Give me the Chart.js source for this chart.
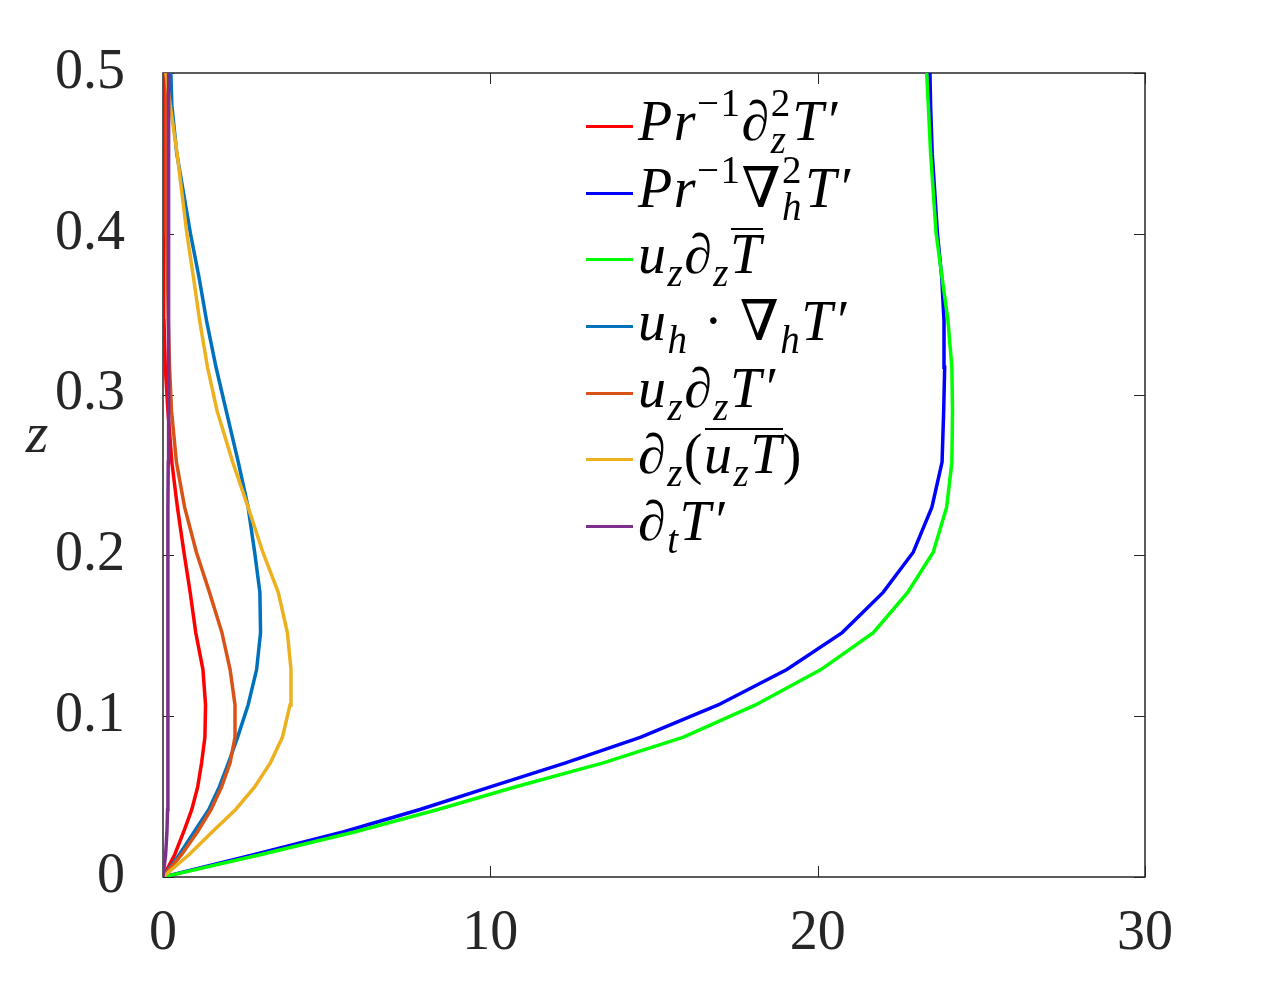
<!DOCTYPE html>
<html>
<head>
<meta charset="utf-8">
<script src="https://cdn.jsdelivr.net/npm/chart.js@4.4.1/dist/chart.umd.min.js"></script>
<style>
html,body{margin:0;padding:0;background:#fff;}
#wrap{position:relative;width:1267px;height:986px;}
#c{position:absolute;left:0;top:0;}
#legend{position:absolute;left:586px;top:93px;}
.row{position:relative;height:66.7px;}
.swatch{position:absolute;left:0;top:32px;width:47px;height:3px;}
.txt{position:absolute;left:52px;top:-5px;white-space:nowrap;font-family:"Liberation Serif","Times New Roman","DejaVu Serif",serif;font-size:56px;line-height:66.7px;font-style:italic;color:#000;letter-spacing:1.5px;}
.u{font-style:normal;}
.sp{font-size:39px;vertical-align:24px;line-height:0;}
.sb{font-size:39px;vertical-align:-13px;line-height:0;}
.ol{position:relative;}
.ol::before{content:'';position:absolute;left:1px;right:0;top:5px;border-top:2px solid #000;}
</style>
</head>
<body>
<div id="wrap">
<canvas id="c" width="1267" height="986"></canvas>
<div id="legend"></div>
</div>
<script>
// vertical coordinate (shared by all profiles)
const zVals = [0, 0.014, 0.028, 0.042, 0.056, 0.071, 0.087, 0.107, 0.129, 0.152, 0.177, 0.202, 0.23, 0.258, 0.29, 0.317, 0.346, 0.373, 0.4, 0.45, 0.48, 0.5];

// series values (x) at each z
const diffZ    = [0, 0.36, 0.63, 0.88, 1.06, 1.18, 1.28, 1.30, 1.22, 1.0, 0.83, 0.64, 0.44, 0.27, 0.15, 0.07, 0.03, 0.02, 0.02, 0.02, 0.03, 0.04];
const diffH    = [0, 2.8, 5.5, 7.85, 10.0, 12.3, 14.6, 16.96, 19.06, 20.75, 22.0, 22.92, 23.49, 23.8, 23.85, 23.88, 23.86, 23.79, 23.66, 23.5, 23.45, 23.43];
const meanAdv  = [0, 3.0, 5.85, 8.4, 10.75, 13.45, 15.9, 18.1, 20.1, 21.7, 22.75, 23.53, 23.94, 24.1, 24.12, 24.1, 23.98, 23.8, 23.62, 23.45, 23.38, 23.33];
const horizAdv = [0, 0.5, 0.95, 1.4, 1.72, 2.0, 2.28, 2.6, 2.86, 2.98, 2.96, 2.8, 2.6, 2.3, 1.93, 1.62, 1.33, 1.1, 0.84, 0.42, 0.27, 0.24];
const vertAdvP = [0, 0.57, 1.05, 1.47, 1.79, 2.05, 2.2, 2.2, 2.05, 1.8, 1.42, 1.02, 0.66, 0.41, 0.26, 0.2, 0.16, 0.14, 0.12, 0.1, 0.1, 0.1];
const fluxDiv  = [0, 0.8, 1.5, 2.22, 2.8, 3.28, 3.65, 3.88, 3.91, 3.8, 3.52, 3.05, 2.6, 2.13, 1.65, 1.36, 1.12, 0.93, 0.73, 0.43, 0.22, 0.09];
const dtT      = [0, 0.08, 0.12, 0.14, 0.15, 0.15, 0.15, 0.15, 0.15, 0.15, 0.15, 0.15, 0.15, 0.16, 0.16, 0.16, 0.17, 0.17, 0.17, 0.18, 0.18, 0.18];

// tick labels
const xTicks = [0, 10, 20, 30];
const yTicks = [0, 0.1, 0.2, 0.3, 0.4, 0.5];

// legend labels (math markup) and colours
const seriesNames = [
  'Pr^-1 dz2 T\'', 'Pr^-1 grad_h2 T\'', 'u_z dz Tbar', 'u_h . grad_h T\'', 'u_z dz T\'', 'dz(u_z T)', 'dt T\''
];
const legendHTML = [
  'Pr<span class="sp u">−1</span>∂<span class="sp u">2</span><span class="sb" style="margin-left:-21px;margin-right:5px">z</span>T′',
  'Pr<span class="sp u">−1</span><span class="u">∇</span><span class="sp u">2</span><span class="sb" style="margin-left:-21px;margin-right:2px">h</span>T′',
  'u<span class="sb">z</span>∂<span class="sb">z</span><span class="ol">T</span>',
  'u<span class="sb">h</span><span class="u"> · ∇</span><span class="sb">h</span>T′',
  'u<span class="sb">z</span>∂<span class="sb">z</span>T′',
  '∂<span class="sb">z</span><span class="u">(</span><span class="ol">u<span class="sb">z</span>T</span><span class="u">)</span>',
  '∂<span class="sb">t</span>T′'
];
const colors = ['#FF0000', '#0000FF', '#00FF00', '#0072BD', '#D95319', '#EDB120', '#7E2F8E'];
const seriesData = [diffZ, diffH, meanAdv, horizAdv, vertAdvP, fluxDiv, dtT];

const toPts = xs => xs.map((x, i) => ({x: x, y: zVals[i]}));

const datasets = seriesData.map((s, i) => ({
  label: seriesNames[i],
  data: toPts(s),
  borderColor: colors[i],
  backgroundColor: colors[i],
  borderWidth: 3.5,
  pointRadius: 0,
  showLine: true,
  tension: 0,
  fill: false,
  order: seriesData.length - 1 - i
}));

const AX = '#262626';
const FONT = '"Liberation Serif", "Times New Roman", "DejaVu Serif", serif';

const boxPlugin = {
  id: 'box',
  beforeDatasetsDraw(chart) {
    const {ctx, chartArea: a, scales} = chart;
    ctx.save();
    ctx.strokeStyle = AX;
    ctx.lineWidth = 1.5;
    ctx.strokeRect(a.left, a.top, a.right - a.left, a.bottom - a.top);
    ctx.lineWidth = 1;
    const tl = 11;
    ctx.beginPath();
    xTicks.forEach(v => {
      const px = Math.round(scales.x.getPixelForValue(v)) + 0.5;
      ctx.moveTo(px, a.bottom); ctx.lineTo(px, a.bottom - tl);
      ctx.moveTo(px, a.top); ctx.lineTo(px, a.top + tl);
    });
    yTicks.forEach(v => {
      const py = Math.round(scales.y.getPixelForValue(v)) + 0.5;
      ctx.moveTo(a.left, py); ctx.lineTo(a.left + tl, py);
      ctx.moveTo(a.right, py); ctx.lineTo(a.right - tl, py);
    });
    ctx.stroke();
    ctx.restore();
  },
  afterDraw(chart) {
    const {ctx} = chart;
    ctx.save();
    ctx.fillStyle = AX;
    ctx.font = 'italic 58px ' + FONT;
    ctx.textAlign = 'center';
    ctx.textBaseline = 'alphabetic';
    ctx.fillText('z', 37, 452);
    ctx.restore();
  }
};

const chart = new Chart(document.getElementById('c'), {
  type: 'scatter',
  data: {datasets},
  options: {
    responsive: false,
    animation: false,
    layout: {padding: {top: 73, right: 122, left: 0, bottom: 0}},
    plugins: {legend: {display: false}, tooltip: {enabled: false}},
    scales: {
      x: {
        type: 'linear', min: 0, max: 30,
        afterBuildTicks: s => { s.ticks = xTicks.map(v => ({value: v})); },
        ticks: {color: AX, font: {family: FONT, size: 56}, padding: 16, maxRotation: 0},
        grid: {display: false},
        border: {display: false},
        afterFit: s => { s.height = 109; }
      },
      y: {
        type: 'linear', min: 0, max: 0.5,
        afterBuildTicks: s => { s.ticks = yTicks.map(v => ({value: v})); },
        ticks: {color: AX, font: {family: FONT, size: 56}, padding: 30,
                callback: v => String(Math.round(v * 10) / 10)},
        grid: {display: false},
        border: {display: false},
        afterFit: s => { s.width = 163; }
      }
    }
  },
  plugins: [boxPlugin]
});

// HTML legend built from the chart's datasets
const lg = document.getElementById('legend');
chart.data.datasets.forEach((ds, i) => {
  const row = document.createElement('div');
  row.className = 'row';
  const sw = document.createElement('span');
  sw.className = 'swatch';
  sw.style.background = ds.borderColor;
  const tx = document.createElement('span');
  tx.className = 'txt';
  tx.innerHTML = legendHTML[i];
  row.appendChild(sw); row.appendChild(tx);
  lg.appendChild(row);
});
</script>
</body>
</html>
